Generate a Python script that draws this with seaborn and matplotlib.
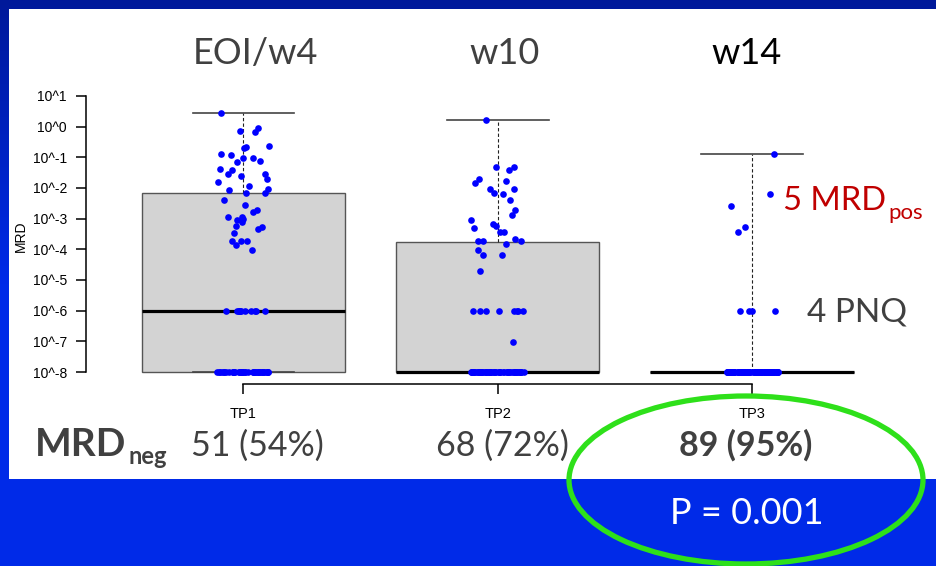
import numpy as np
import pandas as pd
import matplotlib
matplotlib.use("Agg")
import matplotlib.pyplot as plt
import seaborn as sns
from matplotlib.patches import Rectangle, Ellipse
from matplotlib.colors import LinearSegmentedColormap

# ---------------- data (log10 of MRD) ----------------
timepoints = ["TP1", "TP2", "TP3"]
headers = ["EOI/w4", "w10", "w14"]
mrd_neg_labels = ["51 (54%)", "68 (72%)", "89 (95%)"]

tp1_log_mrd = ([0.45, -0.04, -0.14, -0.16, -0.63, -0.68, -0.69, -0.88, -0.93, -1.02,
                -1.03, -1.11, -1.15, -1.37, -1.42, -1.55, -1.55, -1.62, -1.72, -1.82,
                -1.92, -2.03, -2.07, -2.15, -2.16, -2.40, -2.56, -2.73, -2.78, -2.94,
                -2.96, -3.01, -3.03, -3.10, -3.24, -3.27, -3.33, -3.48, -3.72, -3.72,
                -3.73, -3.86, -4.03]
               + [-6.0] * 11 + [-8.0] * 40)
tp2_log_mrd = ([0.21, -1.33, -1.33, -1.43, -1.72, -1.76, -1.85, -2.02, -2.03, -2.17,
                -2.19, -2.40, -2.71, -2.89, -3.03, -3.16, -3.24, -3.32, -3.42, -3.43,
                -3.66, -3.72, -3.72, -3.74, -3.83, -4.03, -4.18, -4.18, -4.72, -7.01]
               + [-6.0] * 8 + [-8.0] * 56)
tp3_log_mrd = ([-0.90, -2.20, -2.59, -3.28, -3.45]
               + [-6.0] * 4 + [-8.0] * 85)

ytick_values = [1, 0, -1, -2, -3, -4, -5, -6, -7, -8]
ytick_labels = ["10^1", "10^0", "10^-1", "10^-2", "10^-3", "10^-4",
                "10^-5", "10^-6", "10^-7", "10^-8"]

df = pd.DataFrame({
    "tp": ["TP1"] * len(tp1_log_mrd) + ["TP2"] * len(tp2_log_mrd) + ["TP3"] * len(tp3_log_mrd),
    "log_mrd": tp1_log_mrd + tp2_log_mrd + tp3_log_mrd,
})

# ---------------- figure ----------------
W, H = 937, 566
fig = plt.figure(figsize=(W / 100, H / 100), dpi=100)


def fx(px):
    return px / W


def fy(py):
    return 1 - py / H


# slide background (blue gradient) and white panel
bg = fig.add_axes([0, 0, 1, 1], zorder=0)
bg.set_axis_off()
grad = np.linspace(0, 1, 256).reshape(-1, 1)
cmap = LinearSegmentedColormap.from_list("slide", ["#00199a", "#002ae8", "#002be9"])
bg.imshow(grad, aspect="auto", cmap=cmap, extent=[0, 1, 0, 1], origin="upper")
bg.set_xlim(0, 1)
bg.set_ylim(0, 1)
bg.add_patch(Rectangle((fx(9), fy(479)), 1 - fx(9), fy(9) - fy(479),
                       facecolor="white", edgecolor="none", transform=bg.transAxes))

# main plot axes
ax_left, ax_right, ax_top, ax_bottom = 86, 937, 90, 384
ax = fig.add_axes([fx(ax_left), fy(ax_bottom), fx(ax_right) - fx(ax_left),
                   fy(ax_top) - fy(ax_bottom)], zorder=2)
ax.patch.set_alpha(0)

sns.boxplot(data=df, x="tp", y="log_mrd", order=timepoints, ax=ax,
            whis=(0, 100), width=0.8, color="#d3d3d3", saturation=1,
            linecolor="#555555", linewidth=1.0, fliersize=0,
            medianprops=dict(color="black", linewidth=2.3, solid_capstyle="butt"),
            whiskerprops=dict(color="#222222", linewidth=0.8, linestyle=(0, (3, 2))),
            capprops=dict(color="#444444", linewidth=1.2))

np.random.seed(7)
sns.stripplot(data=df, x="tp", y="log_mrd", order=timepoints, ax=ax,
              jitter=0.105, color="#0000ff", size=4.8, linewidth=0, zorder=3)

px_per_unit_x = 254.25
px_per_dec = 30.67
x0_px, y8_px = 243.5, 372
ax.set_xlim((ax_left - x0_px) / px_per_unit_x, (ax_right - x0_px) / px_per_unit_x)
ax.set_ylim(-8 - (ax_bottom - y8_px) / px_per_dec, -8 + (y8_px - ax_top) / px_per_dec)

for s in ["top", "right"]:
    ax.spines[s].set_visible(False)
ax.spines["left"].set_bounds(-8, 1)
ax.spines["bottom"].set_bounds(0, 2)
for s in ["left", "bottom"]:
    ax.spines[s].set_linewidth(1.1)
    ax.spines[s].set_color("black")

ax.set_yticks(ytick_values)
ax.set_yticklabels(ytick_labels, fontfamily="Liberation Sans", fontsize=10)
ax.tick_params(axis="y", length=7.2, width=1.1, pad=6.5, direction="out")
ax.set_xticks(range(len(timepoints)))
ax.set_xticklabels(timepoints, fontfamily="Liberation Sans", fontsize=10.5)
ax.tick_params(axis="x", length=7.2, width=1.1, pad=9, direction="out")
ax.set_xlabel("")
ax.set_ylabel("")
fig.text(fx(21), fy(236), "MRD", rotation=90, ha="center", va="center",
         family="Liberation Sans", fontsize=10, color="black", zorder=5)

# ---------------- slide texts ----------------
FONT = "Lato"
gray = "#404040"
for cx, h, col in zip([255, 505, 747], headers, [gray, gray, "black"]):
    fig.text(fx(cx), fy(64), h, ha="center", va="baseline", fontsize=26,
             color=col, family=FONT, zorder=5)

for i, (cx, lab) in enumerate(zip([257, 502, 746], mrd_neg_labels)):
    fig.text(fx(cx), fy(456), lab, ha="center", va="baseline", fontsize=24.5,
             color=gray, family=FONT, fontweight="bold" if i == 2 else "normal", zorder=5)

t_mrd = fig.text(fx(35), fy(456), "MRD", ha="left", va="baseline", fontsize=28,
                 color=gray, family=FONT, fontweight="bold", zorder=5)
t_pos = fig.text(fx(783), fy(210), "5 MRD", ha="left", va="baseline", fontsize=23.5,
                 color="#c00000", family=FONT, zorder=5)
fig.text(fx(807), fy(322), "4 PNQ", ha="left", va="baseline", fontsize=24,
         color=gray, family=FONT, zorder=5)

fig.canvas.draw()
r = fig.canvas.get_renderer()
x_end_mrd = t_mrd.get_window_extent(r).x1
x_end_pos = t_pos.get_window_extent(r).x1
fig.text((x_end_mrd + 2) / W, fy(464), "neg", ha="left", va="baseline", fontsize=17,
         color=gray, family=FONT, fontweight="bold", zorder=5)
fig.text((x_end_pos + 2) / W, fy(219), "pos", ha="left", va="baseline", fontsize=16,
         color="#c00000", family=FONT, zorder=5)

fig.text(fx(747), fy(524), "P = 0.001", ha="center", va="baseline", fontsize=26,
         color="white", family=FONT, zorder=5)

fig.add_artist(Ellipse((fx(746), fy(480)), 354 / W, 168 / H, transform=fig.transFigure,
                       fill=False, edgecolor="#2ee01a", linewidth=3.8, zorder=6))

fig.savefig("out.png", dpi=100)
